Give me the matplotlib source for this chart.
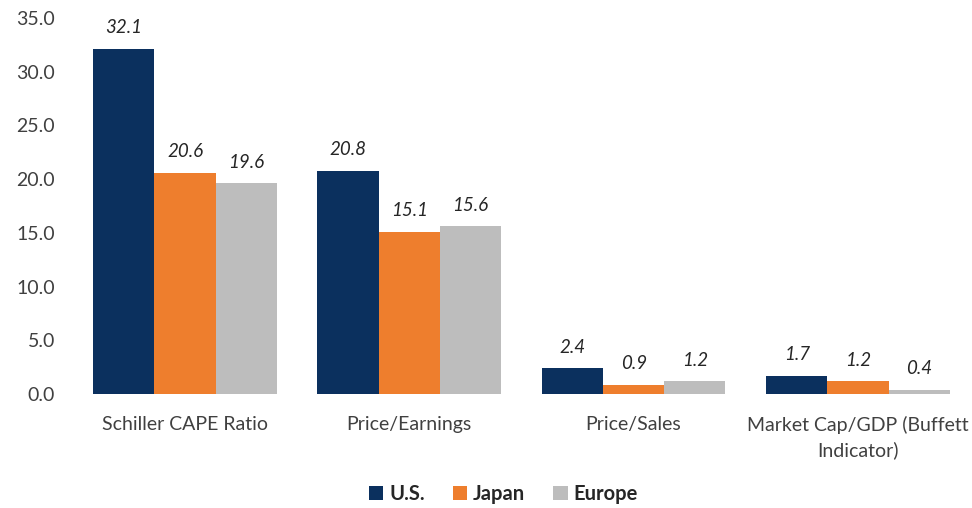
import matplotlib.pyplot as plt
import numpy as np

plt.rcParams['font.family'] = ['Lato', 'DejaVu Sans']

categories = ['Schiller CAPE Ratio', 'Price/Earnings', 'Price/Sales', 'Market Cap/GDP (Buffett\nIndicator)']
series_names = ['U.S.', 'Japan', 'Europe']
us = [32.1, 20.8, 2.4, 1.7]
japan = [20.6, 15.1, 0.9, 1.2]
europe = [19.6, 15.6, 1.2, 0.4]
colors = ['#0B305E', '#EE7E2D', '#BDBDBD']
text_col = '#404040'

fig = plt.figure(figsize=(9.72, 5.08), dpi=100)
ax = fig.add_axes([0.075, 0.224, 0.923, 0.741])

x = np.arange(len(categories))
width = 0.273
for i, (vals, name) in enumerate(zip([us, japan, europe], series_names)):
    bars = ax.bar(x + (i - 1) * width, vals, width, color=colors[i], label=name)
    for b, v in zip(bars, vals):
        ax.annotate(f'{v:.1f}', (b.get_x() + b.get_width() / 2, v), xytext=(0, 9),
                    textcoords='offset points', ha='center', va='bottom',
                    fontsize=13.5, style='italic', color='#262626')

ax.set_xlim(-0.5, 3.5)
ax.set_ylim(0, 35)
ax.set_yticks(np.arange(0, 35.1, 5))
ax.set_yticklabels([f'{t:.1f}' for t in np.arange(0, 35.1, 5)])
ax.set_xticks(x)
ax.set_xticklabels(categories, linespacing=1.45)
for s in ax.spines.values():
    s.set_visible(False)
ax.tick_params(length=0, colors=text_col, labelsize=14)
ax.tick_params(axis='x', pad=16)
ax.tick_params(axis='y', pad=13)

leg = ax.legend(loc='upper center', bbox_to_anchor=(0.48, -0.19), ncol=3, frameon=False,
                handlelength=0.7, handleheight=0.7, handletextpad=0.3, columnspacing=1.4,
                prop={'weight': 'bold', 'size': 14.5})
for t in leg.get_texts():
    t.set_color('#262626')

fig.savefig('out.png', dpi=100)
